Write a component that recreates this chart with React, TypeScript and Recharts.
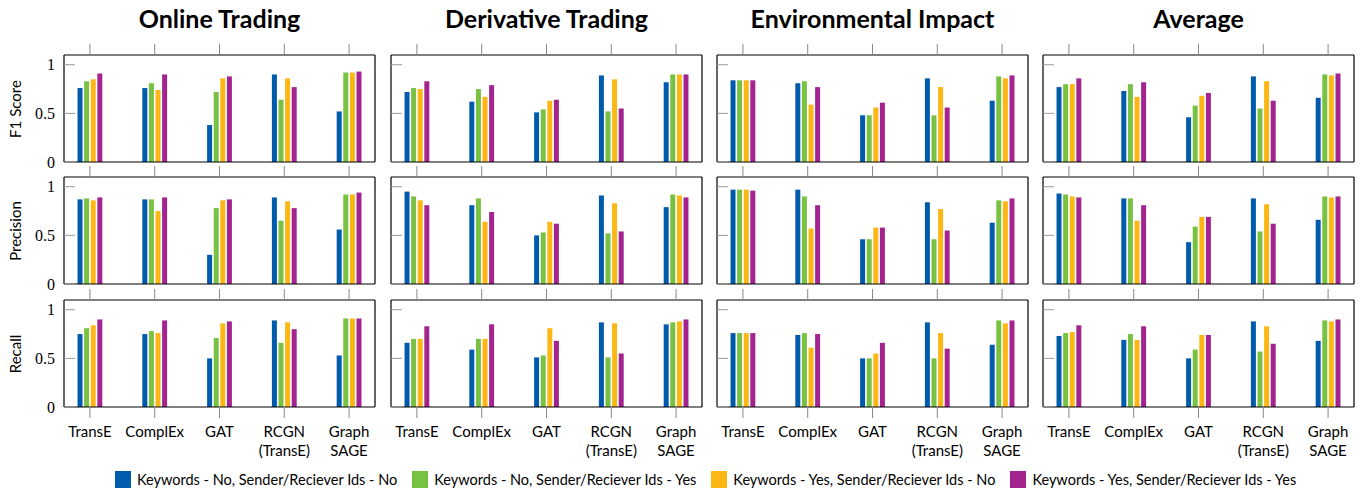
import React from 'react';
import { BarChart, Bar, XAxis, YAxis } from 'recharts';

const models = ['TransE', 'ComplEx', 'GAT', 'RCGN\n(TransE)', 'Graph\nSAGE'];
const datasets = ['Online Trading', 'Derivative Trading', 'Environmental Impact', 'Average'];
const metrics = ['F1 Score', 'Precision', 'Recall'];
const seriesNames = [
  'Keywords - No, Sender/Reciever Ids - No',
  'Keywords - No, Sender/Reciever Ids - Yes',
  'Keywords - Yes, Sender/Reciever Ids - No',
  'Keywords - Yes, Sender/Reciever Ids - Yes',
];
const seriesColors = ['#005BAC', '#78C143', '#FDB714', '#A3248E'];

// each: [blue, green, orange, purple] x models
const onlineF1 = [[0.76, 0.76, 0.38, 0.90, 0.52], [0.83, 0.81, 0.72, 0.64, 0.92], [0.85, 0.74, 0.86, 0.86, 0.92], [0.91, 0.90, 0.88, 0.77, 0.93]];
const onlineP = [[0.87, 0.87, 0.30, 0.89, 0.56], [0.88, 0.87, 0.78, 0.65, 0.92], [0.86, 0.75, 0.86, 0.85, 0.92], [0.89, 0.89, 0.87, 0.78, 0.94]];
const onlineR = [[0.75, 0.75, 0.50, 0.89, 0.53], [0.81, 0.78, 0.71, 0.66, 0.91], [0.84, 0.76, 0.86, 0.87, 0.91], [0.90, 0.89, 0.88, 0.80, 0.91]];
const derivF1 = [[0.72, 0.62, 0.51, 0.89, 0.82], [0.76, 0.75, 0.54, 0.52, 0.90], [0.75, 0.67, 0.63, 0.85, 0.90], [0.83, 0.79, 0.64, 0.55, 0.90]];
const derivP = [[0.95, 0.81, 0.50, 0.91, 0.79], [0.90, 0.88, 0.53, 0.52, 0.92], [0.86, 0.64, 0.64, 0.83, 0.91], [0.81, 0.74, 0.62, 0.54, 0.89]];
const derivR = [[0.66, 0.59, 0.51, 0.87, 0.85], [0.70, 0.70, 0.53, 0.51, 0.87], [0.70, 0.70, 0.81, 0.86, 0.88], [0.83, 0.85, 0.68, 0.55, 0.90]];
const envF1 = [[0.84, 0.81, 0.48, 0.86, 0.63], [0.84, 0.83, 0.48, 0.48, 0.88], [0.84, 0.59, 0.56, 0.77, 0.86], [0.84, 0.77, 0.61, 0.56, 0.89]];
const envP = [[0.97, 0.97, 0.46, 0.84, 0.63], [0.97, 0.90, 0.46, 0.46, 0.86], [0.97, 0.57, 0.58, 0.77, 0.85], [0.96, 0.81, 0.58, 0.55, 0.88]];
const envR = [[0.76, 0.74, 0.50, 0.87, 0.64], [0.76, 0.76, 0.50, 0.50, 0.89], [0.76, 0.61, 0.55, 0.76, 0.86], [0.76, 0.75, 0.66, 0.60, 0.89]];
const avgF1 = [[0.77, 0.73, 0.46, 0.88, 0.66], [0.80, 0.80, 0.58, 0.55, 0.90], [0.80, 0.67, 0.68, 0.83, 0.89], [0.86, 0.82, 0.71, 0.63, 0.91]];
const avgP = [[0.93, 0.88, 0.43, 0.88, 0.66], [0.92, 0.88, 0.59, 0.54, 0.90], [0.90, 0.65, 0.69, 0.82, 0.89], [0.89, 0.81, 0.69, 0.62, 0.90]];
const avgR = [[0.73, 0.69, 0.50, 0.88, 0.68], [0.76, 0.75, 0.59, 0.57, 0.89], [0.77, 0.69, 0.74, 0.83, 0.88], [0.84, 0.83, 0.74, 0.65, 0.90]];

const panels = [
  [onlineF1, derivF1, envF1, avgF1],
  [onlineP, derivP, envP, avgP],
  [onlineR, derivR, envR, avgR],
];

const colLeft = [64, 391, 717, 1043];
const rowTop = [55, 177, 300];
const PLOT_W = 311;
const PLOT_H = 107;
const AXIS_W = 60;
const TOP_H = 12;
const sansFont = 'Lato, "Noto Sans", sans-serif';

const buildRows = (series: number[][]) =>
  models.map((name, i) => {
    const row: any = { x: i, name };
    series.forEach((s, k) => { row['s' + k] = s[i]; });
    return row;
  });

const ModelTick = (props: any) => {
  const { x, y, payload } = props;
  const lines = models[payload.value].split('\n');
  return (
    <text x={x} y={y} textAnchor="middle" fontFamily={sansFont} fontSize={15} fill="#000">
      {lines.map((l, k) => (
        <tspan key={k} x={x} dy={k === 0 ? '0.72em' : '1.25em'}>{l}</tspan>
      ))}
    </text>
  );
};

const Panel: React.FC<{ series: number[][], row: number, col: number }> = ({ series, row, col }) => {
  const bottomH = row === 2 ? 60 : 14;
  const xTicks = models.map((_, i) => i);
  return (
    <div style={{ position: 'absolute', left: colLeft[col] - AXIS_W, top: rowTop[row] - TOP_H }}>
      <BarChart
        width={AXIS_W + PLOT_W + 2}
        height={TOP_H + PLOT_H + bottomH}
        data={buildRows(series)}
        margin={{ top: 0, right: 1, bottom: 0, left: 0 }}
        barSize={5}
        barGap={1.6}
      >
        <XAxis xAxisId="t" orientation="top" type="number" dataKey="x" domain={[-0.4, 4.4]} ticks={xTicks}
          height={TOP_H} tickSize={11} interval={0}
          axisLine={{ stroke: '#000', strokeWidth: 1.2 }} tickLine={{ stroke: '#888' }} tickFormatter={() => ''} />
        <XAxis xAxisId="b" orientation="bottom" type="number" dataKey="x" domain={[-0.4, 4.4]} ticks={xTicks}
          height={bottomH} tickSize={11} tickMargin={8} interval={0}
          axisLine={{ stroke: '#000', strokeWidth: 1.2 }} tickLine={{ stroke: '#888' }}
          tick={row === 2 ? <ModelTick /> : false} />
        <YAxis yAxisId="l" orientation="left" width={AXIS_W} domain={[0, 1.1]} ticks={[0, 0.5, 1]} interval={0}
          tickSize={-11} tickMargin={20}
          axisLine={{ stroke: '#000', strokeWidth: 1.2 }} tickLine={{ stroke: '#999' }}
          tick={{ fontFamily: '"Liberation Serif", serif', fontSize: 16, fill: '#000' }}
          tickFormatter={(v: number) => (col === 0 ? String(v) : '')} />
        <YAxis yAxisId="r" orientation="right" width={1} domain={[0, 1.1]} ticks={[0, 0.5, 1]} interval={0}
          tickSize={-11} axisLine={{ stroke: '#000', strokeWidth: 1.2 }} tickLine={{ stroke: '#999' }}
          tickFormatter={() => ''} />
        {seriesColors.map((c, k) => (
          <Bar key={k} xAxisId="b" yAxisId="l" dataKey={'s' + k} name={seriesNames[k]} fill={c} isAnimationActive={false} />
        ))}
      </BarChart>
    </div>
  );
};

export default function App() {
  return (
    <div style={{ position: 'absolute', left: 0, top: 0, width: 1362, height: 494, background: '#fff', fontFamily: sansFont }}>
      {datasets.map((d, c) => (
        <div key={d} style={{ position: 'absolute', left: colLeft[c] - 20, top: 3, width: PLOT_W + 40, textAlign: 'center', fontWeight: 700, fontSize: 25, lineHeight: '30px' }}>
          {d}
        </div>
      ))}
      {metrics.map((m, r) => (
        <div key={m} style={{
          position: 'absolute', left: 14 - PLOT_H / 2, top: rowTop[r] + PLOT_H / 2 - 10, width: PLOT_H, height: 20,
          lineHeight: '20px', textAlign: 'center', fontSize: 15, transform: 'rotate(-90deg)',
        }}>
          {m}
        </div>
      ))}
      {panels.map((rowPanels, r) => rowPanels.map((s, c) => <Panel key={r + '-' + c} series={s} row={r} col={c} />))}
      <div style={{ position: 'absolute', left: 115, top: 470, height: 18, display: 'flex', alignItems: 'center', gap: 15, whiteSpace: 'nowrap' }}>
        {seriesNames.map((n, k) => (
          <div key={n} style={{ display: 'flex', alignItems: 'center' }}>
            <span style={{ display: 'inline-block', width: 16, height: 17, background: seriesColors[k], marginRight: 6 }} />
            <span style={{ fontSize: 14.5 }}>{n}</span>
          </div>
        ))}
      </div>
    </div>
  );
}
